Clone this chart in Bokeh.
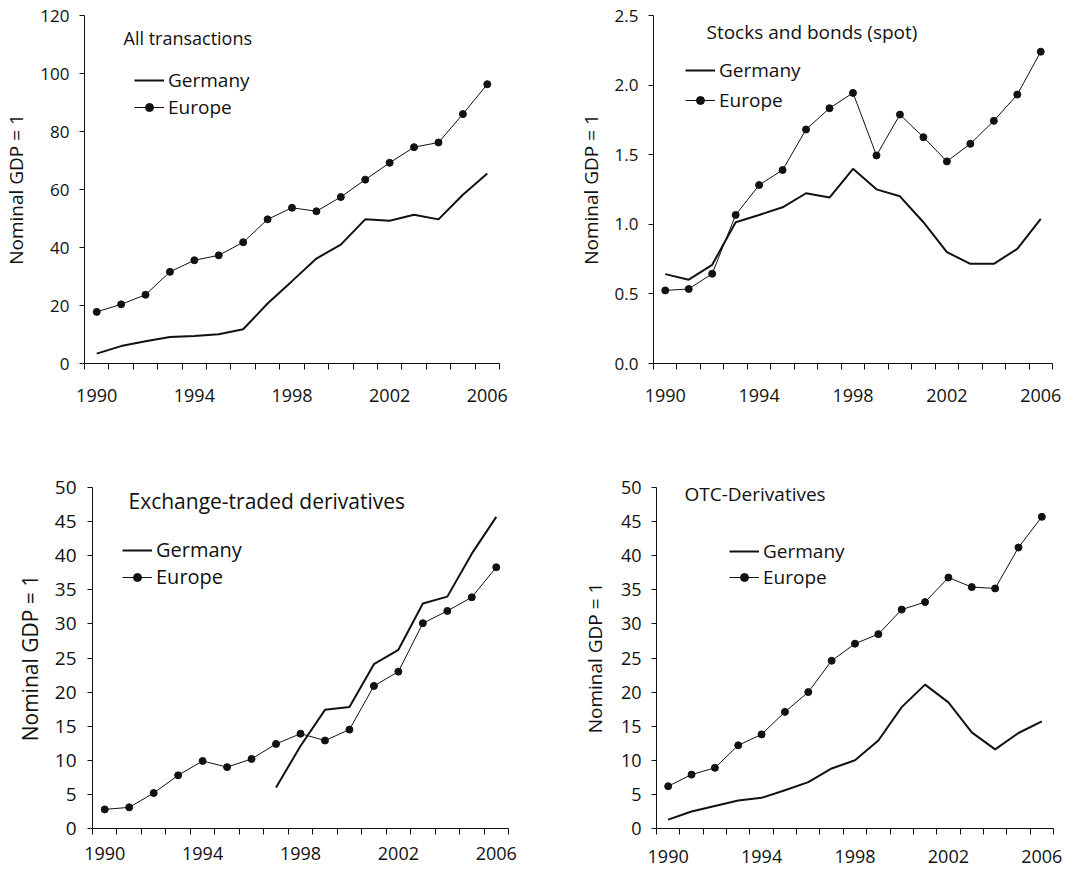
from bokeh.plotting import figure
from bokeh.models import FixedTicker, Legend, LegendItem, Label, PrintfTickFormatter
from bokeh.layouts import column, row
from bokeh.embed import file_html
from bokeh.resources import INLINE

NaN = float("nan")

years = list(range(1990, 2007))
year_labels = [1990, 1994, 1998, 2002, 2006]
series_names = ["Germany", "Europe"]
y_axis_title = "Nominal GDP = 1"

titles = ["All transactions", "Stocks and bonds (spot)",
          "Exchange-traded derivatives", "OTC-Derivatives"]

all_germany = [3.4, 6.0, 7.7, 9.1, 9.5, 10.1, 11.8, 20.7, 28.4, 36.2, 41.0, 49.7, 49.2, 51.3, 49.7, 58.2, 65.5]
all_europe = [17.8, 20.4, 23.7, 31.6, 35.6, 37.3, 41.8, 49.7, 53.7, 52.5, 57.4, 63.4, 69.2, 74.6, 76.2, 86.0, 96.3]

spot_germany = [0.642, 0.602, 0.709, 1.015, 1.067, 1.122, 1.223, 1.192, 1.399, 1.251, 1.201, 1.015, 0.80, 0.716, 0.716, 0.824, 1.039]
spot_europe = [0.525, 0.535, 0.645, 1.067, 1.282, 1.39, 1.681, 1.834, 1.944, 1.495, 1.788, 1.626, 1.452, 1.578, 1.743, 1.932, 2.24]

etd_germany = [NaN, NaN, NaN, NaN, NaN, NaN, NaN, 6.0, 12.1, 17.4, 17.8, 24.1, 26.2, 33.0, 34.0, 40.3, 45.7]
etd_europe = [2.8, 3.1, 5.2, 7.8, 9.9, 9.0, 10.2, 12.4, 13.9, 12.9, 14.5, 20.9, 23.0, 30.1, 31.9, 33.9, 38.3]

otc_germany = [1.3, 2.5, 3.3, 4.1, 4.5, 5.6, 6.8, 8.8, 10.0, 12.9, 17.8, 21.1, 18.5, 14.1, 11.6, 14.0, 15.7]
otc_europe = [6.2, 7.9, 8.9, 12.2, 13.8, 17.1, 20.0, 24.6, 27.1, 28.5, 32.1, 33.2, 36.8, 35.4, 35.2, 41.2, 45.7]

y_ticks_all = [0, 20, 40, 60, 80, 100, 120]
y_ticks_spot = [0.0, 0.5, 1.0, 1.5, 2.0, 2.5]
y_ticks_deriv = [0, 5, 10, 15, 20, 25, 30, 35, 40, 45, 50]

FONT = "Open Sans"
INK = "#111111"


def make_panel(title, germany, europe, y_ticks, fmt, width, height, borders,
               tick_fs, x_fs, axis_fs, legend_fs, title_fs, legend_xy, spacing,
               title_xy, x_standoff, y_standoff, axis_standoff, marker_size):
    bl, br, bt, bb = borders
    p = figure(width=width, height=height, output_backend="svg", toolbar_location=None,
               x_range=(years[0] - 0.5, years[-1] + 0.5),
               y_range=(y_ticks[0], y_ticks[-1]),
               min_border_left=bl, min_border_right=br, min_border_top=bt, min_border_bottom=bb)
    p.outline_line_color = None
    p.xgrid.grid_line_color = None
    p.ygrid.grid_line_color = None
    p.background_fill_color = "white"
    p.border_fill_color = "white"

    g = p.line(years, germany, line_color=INK, line_width=2)
    el = p.line(years, europe, line_color=INK, line_width=1)
    es = p.scatter(years, europe, size=marker_size, fill_color=INK, line_color=INK)

    # x axis: category-style, ticks between years, labels every 4 years
    xa = p.xaxis[0]
    xa.ticker = FixedTicker(ticks=year_labels,
                            minor_ticks=[y - 0.5 for y in years] + [years[-1] + 0.5])
    xa.major_tick_line_alpha = 0
    xa.major_tick_out = 6
    xa.major_tick_in = 0
    xa.minor_tick_out = 6
    xa.minor_tick_in = 0
    xa.minor_tick_line_color = INK
    xa.axis_line_color = INK
    xa.major_label_text_font = FONT
    xa.major_label_text_font_size = f"{x_fs}px"
    xa.major_label_text_color = INK
    xa.major_label_standoff = x_standoff

    # y axis
    ya = p.yaxis[0]
    ya.ticker = FixedTicker(ticks=y_ticks)
    ya.formatter = PrintfTickFormatter(format=fmt)
    ya.minor_tick_line_color = None
    ya.major_tick_out = 5
    ya.major_tick_in = 0
    ya.major_tick_line_color = INK
    ya.axis_line_color = INK
    ya.major_label_text_font = FONT
    ya.major_label_text_font_size = f"{tick_fs}px"
    ya.major_label_text_color = INK
    ya.major_label_standoff = y_standoff
    ya.axis_label = y_axis_title
    ya.axis_label_text_font = FONT
    ya.axis_label_text_font_size = f"{axis_fs}px"
    ya.axis_label_text_font_style = "normal"
    ya.axis_label_text_color = INK
    ya.axis_label_standoff = axis_standoff

    legend = Legend(items=[LegendItem(label=series_names[0], renderers=[g]),
                           LegendItem(label=series_names[1], renderers=[el, es])],
                    location=legend_xy, orientation="vertical",
                    border_line_alpha=0, background_fill_alpha=0,
                    padding=0, margin=0, spacing=spacing,
                    glyph_width=30, glyph_height=20, label_height=20,
                    label_standoff=4,
                    label_text_font=FONT, label_text_font_size=f"{legend_fs}px",
                    label_text_color=INK)
    p.add_layout(legend)

    p.add_layout(Label(x=title_xy[0], y=title_xy[1], x_units="screen", y_units="screen",
                       text=title, text_font=FONT, text_font_size=f"{title_fs}px",
                       text_color=INK, text_baseline="middle", text_align="left"))
    return p


p1 = make_panel(titles[0], all_germany, all_europe, y_ticks_all, "%d",
                540, 438, (83, 41, 15, 75), 17, 18, 19, 19, 18,
                (50, 243), 1, (39, 326), 19, 10, 8, 7)
p2 = make_panel(titles[1], spot_germany, spot_europe, y_ticks_spot, "%.1f",
                540, 438, (113, 28, 15, 74), 17, 18, 19, 19, 19,
                (32, 250), 4, (53, 332), 19, 10, 8, 7)
p3 = make_panel(titles[2], etd_germany, etd_europe, y_ticks_deriv, "%d",
                540, 437, (92, 32, 49, 44), 19, 18, 21, 20, 21,
                (30, 238), -2, (36, 328), 12, 11, 8, 7)
p4 = make_panel(titles[3], otc_germany, otc_europe, y_ticks_deriv, "%d",
                540, 437, (116, 27, 45, 47), 18, 18, 19, 19, 19,
                (73, 238), -2, (28, 335), 15, 10, 10, 7)

layout = column(row(p1, p2), row(p3, p4))
open("out.html", "w").write(file_html(layout, INLINE))
